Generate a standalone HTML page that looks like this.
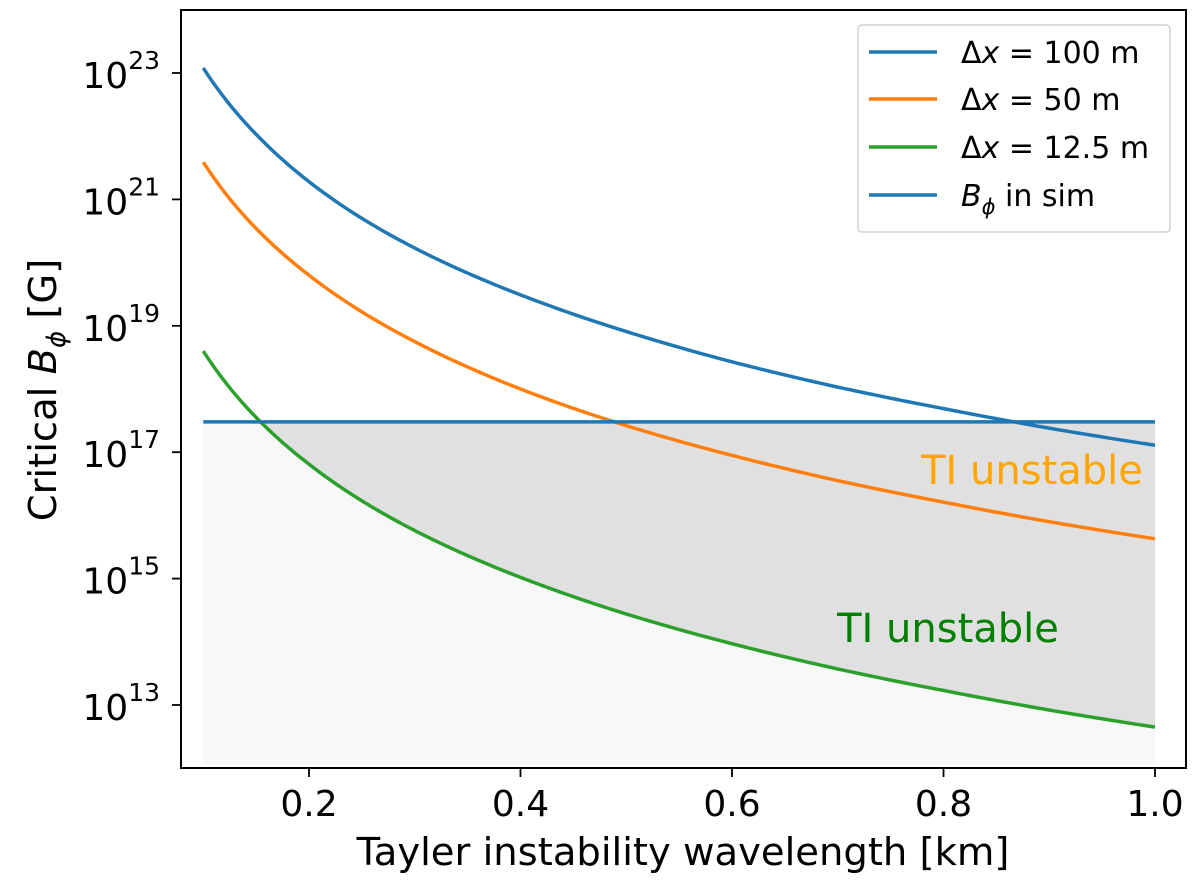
<!DOCTYPE html>
<html><head><meta charset="utf-8"><style>
body{margin:0;background:#fff;}
svg text{font-family:"DejaVu Sans","Liberation Sans",sans-serif;}
</style></head><body>
<svg id="chart" width="1200" height="891" xmlns="http://www.w3.org/2000/svg"></svg>
<script>
const lambdas=[0.1,0.125,0.15,0.2,0.25,0.3,0.4,0.5,0.6,0.7,0.8,0.9,1.0];
const logB100=[23.08,22.50,22.03,21.28,20.70,20.23,19.49,18.91,18.43,18.03,17.69,17.38,17.11];
const logB50=[21.59,21.01,20.54,19.80,19.22,18.75,18.00,17.42,16.95,16.55,16.21,15.90,15.63];
const logB125=[18.60,18.02,17.55,16.81,16.23,15.76,15.02,14.44,13.97,13.57,13.23,12.92,12.65];
const logBsim=17.48;
const xTicks=[0.2,0.4,0.6,0.8,1.0];
const xTickLabels=["0.2","0.4","0.6","0.8","1.0"];
const yTicks=[13,15,17,19,21,23];
const seriesNums=["100","50","12.5"];

const L=181,R=1186,T=10,B=768;
const X=v=>203.25+(v-0.1)*1057.5;
const Y=e=>73+(23-e)*63.2;
const NS="http://www.w3.org/2000/svg";
const svg=document.getElementById('chart');
function mk(tag,attrs,parent){const e=document.createElementNS(NS,tag);for(const k in attrs)e.setAttribute(k,attrs[k]);(parent||svg).appendChild(e);return e;}
function interp(arr,lam){
  for(let i=0;i<lambdas.length-1;i++){
    if(lam<=lambdas[i+1]+1e-12){
      const a=Math.log10(lambdas[i]),b=Math.log10(lambdas[i+1]);
      const t=(Math.log10(lam)-a)/(b-a);
      return arr[i]+(arr[i+1]-arr[i])*t;
    }
  }
  return arr[arr.length-1];
}
function pts(arr){const p=[];for(let k=0;k<=200;k++){const lam=0.1+0.9*k/200;p.push([X(lam),Y(interp(arr,lam))]);}return p;}

const lf=mk('rect',{x:X(0.1),y:Y(logBsim),width:X(1)-X(0.1),height:B-Y(logBsim)-3,fill:'#f8f8f8'});


const gp=pts(logB125).filter(p=>p[1]>=Y(logBsim));
let d=`M${gp[0][0]},${Y(logBsim)} `+gp.map(p=>`L${p[0]},${p[1]}`).join(' ')+` L${X(1)},${Y(logBsim)} Z`;
const df=mk('path',{d:d,fill:'#e0e0e0'});



const colors=['#1f77b4','#ff7f0e','#2ca02c'];
[logB100,logB50,logB125].forEach((arr,i)=>{
  const p=pts(arr);
  const el=mk('path',{d:'M'+p.map(q=>q.join(',')).join(' L'),fill:'none',stroke:colors[i],'stroke-width':3.5});
  
  
});
const hl=mk('line',{x1:X(0.1),x2:X(1),y1:Y(logBsim),y2:Y(logBsim),stroke:'#1f77b4','stroke-width':3.5});



const ax=mk('rect',{x:L,y:T,width:R-L,height:B-T,fill:'none',stroke:'#000','stroke-width':2});


xTicks.forEach((v,i)=>{
  mk('line',{x1:X(v),x2:X(v),y1:B,y2:B+9,stroke:'#000','stroke-width':1.8});
  const t=mk('text',{x:X(v),y:816,'text-anchor':'middle','font-size':36});t.textContent=xTickLabels[i];
  
  
});
yTicks.forEach(e=>{
  const y=Y(e);
  mk('line',{x1:L-9,x2:L,y1:y,y2:y,stroke:'#000','stroke-width':1.8});
  const t=mk('text',{x:L-21,y:y+15,'text-anchor':'end','font-size':36});
  t.innerHTML='10<tspan dy="-19" font-size="25">'+e+'</tspan>';
  
  
});
const xl=mk('text',{x:683,y:865,'text-anchor':'middle','font-size':38.5});xl.textContent='Tayler instability wavelength [km]';


const yl=mk('text',{x:0,y:0,'text-anchor':'middle','font-size':38.5,transform:'translate(56,390) rotate(-90)'});
yl.innerHTML='Critical <tspan font-style="italic">B</tspan><tspan font-style="italic" font-size="26" dy="9">ϕ</tspan><tspan dy="-9"> [G]</tspan>';



const a1=mk('text',{x:1032,y:484,'text-anchor':'middle','font-size':40,fill:'#ffa500'});a1.textContent='TI unstable';


const a2=mk('text',{x:948,y:642,'text-anchor':'middle','font-size':40,fill:'#008000'});a2.textContent='TI unstable';



const lg=mk('g',{});


mk('rect',{x:858,y:25,width:312,height:207,rx:4,fill:'#fff',stroke:'#d0d0d0','stroke-width':1.5},lg);
const lcol=[...colors,'#1f77b4'];
[52,99,147,195].forEach((y,i)=>{
  const ln=mk('line',{x1:869,x2:937,y1:y,y2:y,stroke:lcol[i],'stroke-width':3.5},lg);
  
  
  const t=mk('text',{x:961,y:y+11,'font-size':30},lg);
  if(i<3)t.innerHTML='Δ<tspan font-style="italic">x</tspan> = '+seriesNums[i]+' m';
  else t.innerHTML='<tspan font-style="italic">B</tspan><tspan font-style="italic" font-size="21" dy="8">ϕ</tspan><tspan dy="-8"> in sim</tspan>';
  
  
});
</script>
</body></html>
